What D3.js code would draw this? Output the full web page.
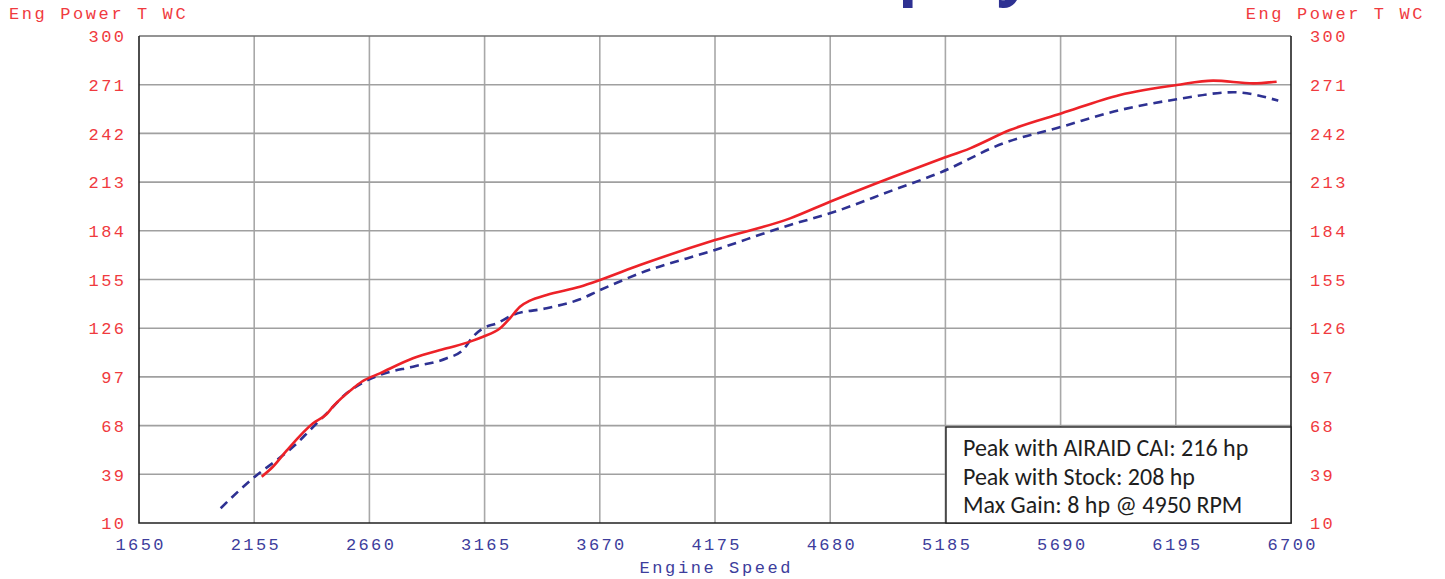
<!DOCTYPE html>
<html>
<head>
<meta charset="utf-8">
<script src="https://cdn.jsdelivr.net/npm/d3@7"></script>
<style>
  html, body { margin: 0; padding: 0; background: #fff; }
  svg { display: block; }
</style>
</head>
<body>
<svg id="chart" width="1445" height="579"></svg>
<script>
var W = 1445
  , H = 579

// chart values
var titleText = 'Power Display'
var yLabel = 'Eng Power T WC'
var xLabel = 'Engine Speed'
var xTicks = [1650, 2155, 2660, 3165, 3670, 4175, 4680, 5185, 5690, 6195, 6700]
var yTicks = [10, 39, 68, 97, 126, 155, 184, 213, 242, 271, 300]

var stockRpm = [2008, 2158, 2254, 2334, 2400, 2473, 2560, 2626, 2706, 2851, 2999, 3070, 3114, 3158, 3218, 3290, 3437, 3583, 3671, 3846, 4175, 4504, 4679, 4957, 5161, 5439, 5695, 5950, 6199, 6447, 6644]
var stockHp  = [18.8, 37.6, 47.5, 56.4, 65.4, 75.3, 87.2, 93.2, 98.1, 103.1, 108.1, 113, 120.9, 125.9, 128.9, 133.9, 137.9, 143.2, 148.7, 158.7, 172.6, 187.5, 194.4, 208.3, 218.6, 236.1, 246, 255.9, 262.3, 266.5, 261.5]

var airaidRpm = [2188, 2237, 2297, 2413, 2473, 2500, 2588, 2626, 2706, 2851, 2999, 3101, 3158, 3233, 3276, 3320, 3364, 3437, 3583, 3671, 3846, 4175, 4504, 4679, 4957, 5161, 5293, 5468, 5695, 5950, 6199, 6359, 6535, 6637]
var airaidHp  = [37.6, 43.5, 53.1, 69.4, 74.9, 79.3, 90.2, 94.1, 99.1, 108.1, 114, 118, 120.9, 125.9, 131.9, 138.8, 142.4, 145.8, 150.7, 154.7, 163.6, 178.5, 191.4, 201.3, 216.2, 226.6, 233.1, 244, 254, 264.9, 270.8, 273.4, 271.8, 272.8]

var notes = [
    'Peak with AIRAID CAI: 216 hp'
  , 'Peak with Stock: 208 hp'
  , 'Max Gain: 8 hp @ 4950 RPM'
]

var MONO = '"Courier New", "Liberation Mono", monospace'
  , RED = '#f03a3e'
  , BLUE = '#3d3d9c'

var svg = d3.select('#chart')

var x = d3.scaleLinear()
  .domain([xTicks[0], xTicks[xTicks.length - 1]])
  .range([139, 1291])

var y = d3.scaleLinear()
  .domain([yTicks[0], yTicks[yTicks.length - 1]])
  .range([523, 36])

// cropped title, only its descenders peek in at the top
var title = svg.append('text')
  .text(titleText)
  .attr('y', -8)
  .attr('font-family', '"Open Sans", sans-serif')
  .attr('font-weight', 'bold')
  .attr('font-size', 64)
  .attr('fill', '#2e3192')

var pIdx = titleText.indexOf('p')
title.attr('x', 898 - title.node().getStartPositionOfChar(pIdx).x)

// grid
svg.append('g')
  .selectAll('line')
  .data(xTicks.slice(1, -1))
  .join('line')
    .attr('x1', x)
    .attr('x2', x)
    .attr('y1', y.range()[1])
    .attr('y2', y.range()[0])
    .attr('stroke', '#a8a8a8')
    .attr('stroke-width', 1.6)

svg.append('g')
  .selectAll('line')
  .data(yTicks.slice(1))
  .join('line')
    .attr('x1', x.range()[0])
    .attr('x2', x.range()[1])
    .attr('y1', y)
    .attr('y2', y)
    .attr('stroke', function(d) { return d === 300 ? '#707070' : '#a0a0a0' })
    .attr('stroke-width', 1.6)

// frame: left, bottom, right
svg.append('path')
  .attr('d', 'M' + x.range()[0] + ',' + y.range()[1] +
    'V' + y.range()[0] + 'H' + x.range()[1] + 'V' + y.range()[1])
  .attr('fill', 'none')
  .attr('stroke', '#222')
  .attr('stroke-width', 1.6)

// axes via d3-axis, then strip the domain/tick lines
var tickFont = function(g, color) {
  g.select('.domain').remove()
  g.selectAll('.tick line').remove()
  g.selectAll('.tick text')
    .attr('font-family', MONO)
    .attr('font-size', 17)
    .attr('letter-spacing', 2.4)
    .attr('fill', color)
}

svg.append('g')
  .attr('transform', 'translate(0,' + y.range()[0] + ')')
  .call(d3.axisBottom(x).tickValues(xTicks).tickFormat(d3.format('d'))
    .tickSize(0).tickPadding(0))
  .call(tickFont, BLUE)
  .selectAll('.tick text')
    .attr('y', 27)
    .attr('dy', 0)
    .attr('dx', 1.2)

svg.append('g')
  .attr('transform', 'translate(' + (x.range()[0] - 15) + ',0)')
  .call(d3.axisLeft(y).tickValues(yTicks).tickSize(0).tickPadding(0))
  .call(tickFont, RED)
  .selectAll('.tick text')
    .attr('x', 2.4)
    .attr('dy', '0.34em')

svg.append('g')
  .attr('transform', 'translate(' + (x.range()[1] + 19) + ',0)')
  .call(d3.axisRight(y).tickValues(yTicks).tickSize(0).tickPadding(0))
  .call(tickFont, RED)
  .selectAll('.tick text')
    .attr('dy', '0.34em')

// axis titles
svg.append('text')
  .text(yLabel)
  .attr('x', 9)
  .attr('y', 19)
  .attr('font-family', MONO)
  .attr('font-size', 17)
  .attr('letter-spacing', 2.6)
  .attr('fill', RED)

svg.append('text')
  .text(yLabel)
  .attr('x', 1425)
  .attr('y', 19)
  .attr('text-anchor', 'end')
  .attr('font-family', MONO)
  .attr('font-size', 17)
  .attr('letter-spacing', 2.6)
  .attr('fill', RED)

svg.append('text')
  .text(xLabel)
  .attr('x', (x.range()[0] + x.range()[1]) / 2 + 1.3)
  .attr('y', 573)
  .attr('text-anchor', 'middle')
  .attr('font-family', MONO)
  .attr('font-size', 17)
  .attr('letter-spacing', 2.6)
  .attr('fill', BLUE)

// series
var line = d3.line()
  .x(function(d) { return x(d[0]) })
  .y(function(d) { return y(d[1]) })
  .curve(d3.curveMonotoneX)

svg.append('path')
  .datum(d3.zip(stockRpm, stockHp))
  .attr('d', line)
  .attr('fill', 'none')
  .attr('stroke', '#2e3192')
  .attr('stroke-width', 2.6)
  .attr('stroke-dasharray', '9,6')

svg.append('path')
  .datum(d3.zip(airaidRpm, airaidHp))
  .attr('d', line)
  .attr('fill', 'none')
  .attr('stroke', '#ed2228')
  .attr('stroke-width', 2.6)

// notes box
var box = svg.append('g')

box.append('rect')
  .attr('x', 946)
  .attr('y', 427)
  .attr('width', x.range()[1] - 946)
  .attr('height', y.range()[0] - 427)
  .attr('fill', '#fff')
  .attr('stroke', '#222')
  .attr('stroke-width', 1.4)

box.selectAll('text')
  .data(notes)
  .join('text')
    .text(function(d) { return d })
    .attr('x', 963)
    .attr('y', function(d, i) { return 456 + i * 28.5 })
    .attr('font-family', 'Carlito, "Open Sans", sans-serif')
    .attr('font-size', 24)
    .attr('fill', '#1e1e1e')
</script>
</body>
</html>
